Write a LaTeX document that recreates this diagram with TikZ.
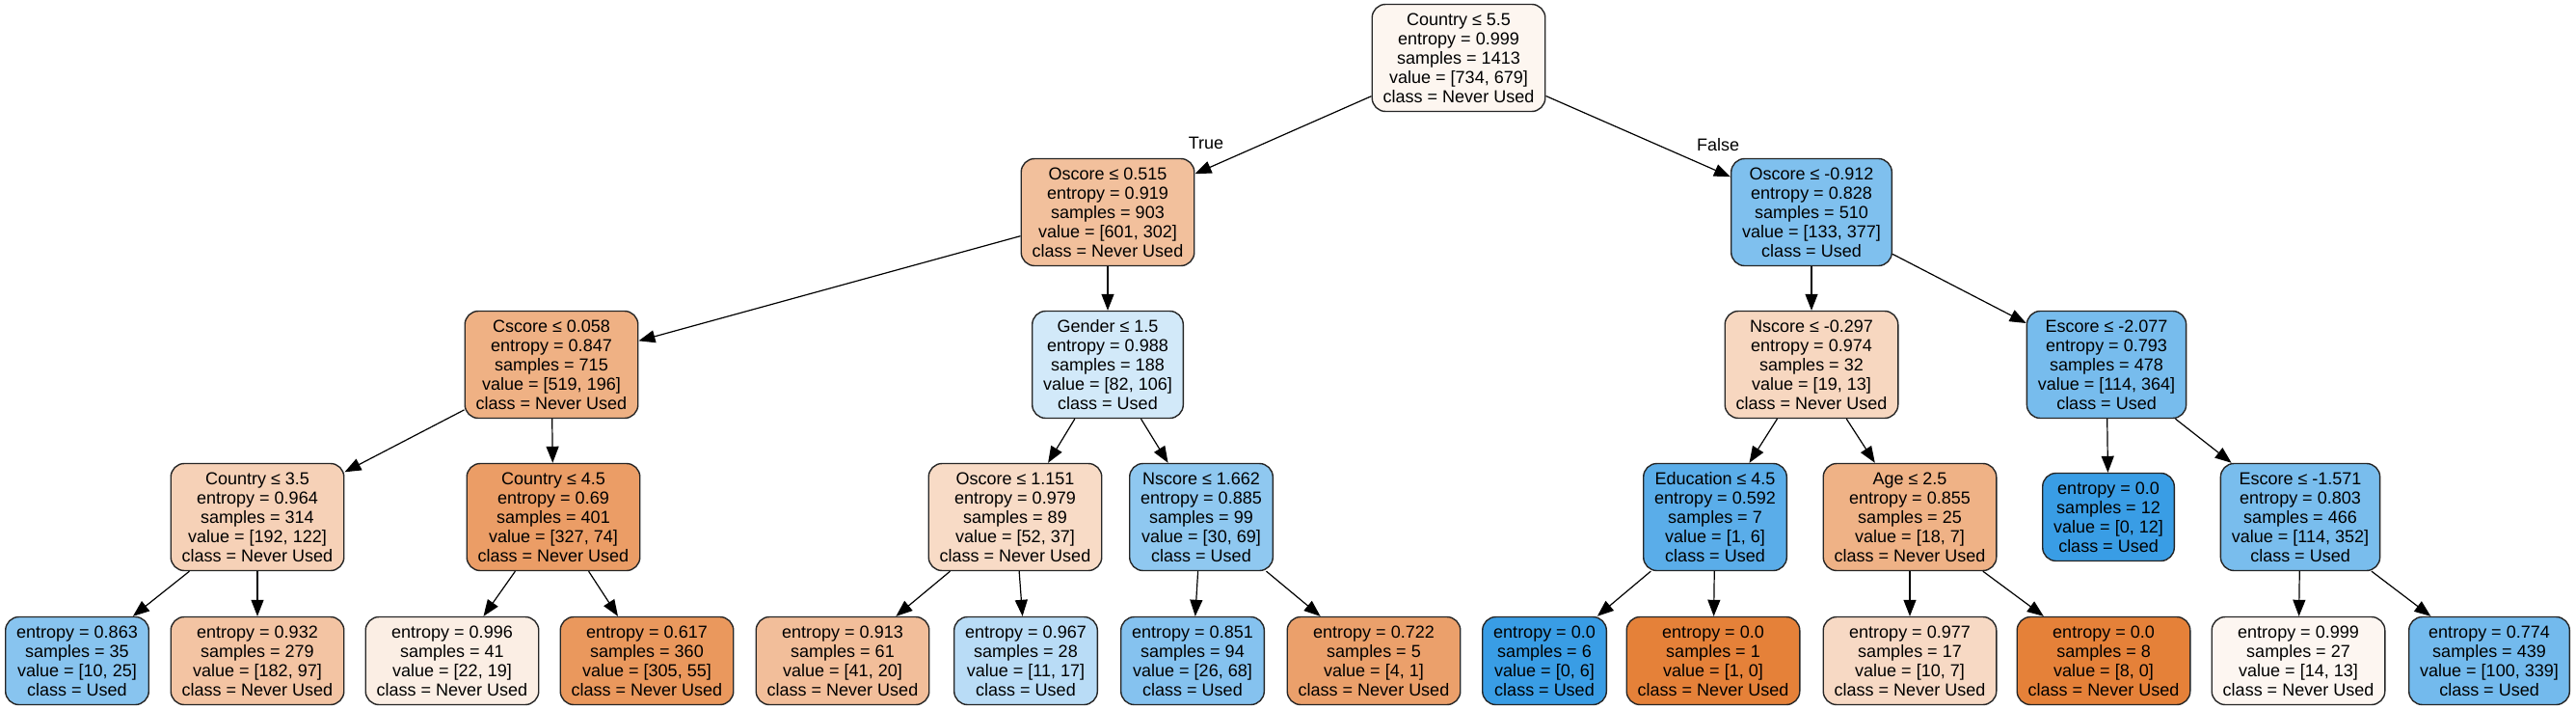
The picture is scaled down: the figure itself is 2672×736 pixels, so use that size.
\documentclass[tikz,border=0pt]{standalone}
\usepackage{fontspec}
\setmainfont{Liberation Sans}
\usetikzlibrary{arrows.meta}
\definecolor{neverused}{RGB}{229,129,57}
\definecolor{used}{RGB}{57,157,229}

\begin{document}
\begin{tikzpicture}[
    x=1pt, y=-1pt,
    edge/.style={draw=black, line width=1.2pt,
        -{Triangle[length=17pt, width=13pt]}},
    tree node/.style={draw=black!85, rectangle, rounded corners=14pt,
        line width=1.4pt, align=center, inner xsep=11.5pt, inner ysep=3pt,
        font=\fontsize{18}{20}\selectfont},
    split/.style={tree node, minimum height=111pt},
    leaf/.style={tree node, minimum height=91pt},
    branch label/.style={font=\fontsize{18}{20}\selectfont, inner sep=1pt}
]
    \path[use as bounding box] (0,0) rectangle (2672,736);

    % The root split.
    \node[split, fill=neverused!7.5!white] (country55) at (1513,60)
        {Country ≤ 5.5\\entropy = 0.999\\samples = 1413\\value = [734, 679]\\class = Never Used};

    % Depth one.
    \node[split, fill=neverused!49.8!white] (oscore515) at (1149,220)
        {Oscore ≤ 0.515\\entropy = 0.919\\samples = 903\\value = [601, 302]\\class = Never Used};
    \node[split, fill=used!64.7!white] (oscoreM912) at (1879,220)
        {Oscore ≤ -0.912\\entropy = 0.828\\samples = 510\\value = [133, 377]\\class = Used};

    % Depth two.
    \node[split, fill=neverused!62.2!white] (cscore058) at (572,378)
        {Cscore ≤ 0.058\\entropy = 0.847\\samples = 715\\value = [519, 196]\\class = Never Used};
    \node[split, fill=used!22.6!white] (gender15) at (1149,378)
        {Gender ≤ 1.5\\entropy = 0.988\\samples = 188\\value = [82, 106]\\class = Used};
    \node[split, fill=neverused!31.6!white] (nscoreM297) at (1879,378)
        {Nscore ≤ -0.297\\entropy = 0.974\\samples = 32\\value = [19, 13]\\class = Never Used};
    \node[split, fill=used!68.7!white] (escoreM2077) at (2185,378)
        {Escore ≤ -2.077\\entropy = 0.793\\samples = 478\\value = [114, 364]\\class = Used};

    % Depth three.
    \node[split, fill=neverused!36.5!white] (country35) at (267,536)
        {Country ≤ 3.5\\entropy = 0.964\\samples = 314\\value = [192, 122]\\class = Never Used};
    \node[split, fill=neverused!77.4!white] (country45) at (574,536)
        {Country ≤ 4.5\\entropy = 0.69\\samples = 401\\value = [327, 74]\\class = Never Used};
    \node[split, fill=neverused!28.8!white] (oscore1151) at (1053,536)
        {Oscore ≤ 1.151\\entropy = 0.979\\samples = 89\\value = [52, 37]\\class = Never Used};
    \node[split, fill=used!56.5!white] (nscore1662) at (1246,536)
        {Nscore ≤ 1.662\\entropy = 0.885\\samples = 99\\value = [30, 69]\\class = Used};
    \node[split, fill=used!83.3!white] (educ45) at (1779,536)
        {Education ≤ 4.5\\entropy = 0.592\\samples = 7\\value = [1, 6]\\class = Used};
    \node[split, fill=neverused!61.1!white] (age25) at (1981,536)
        {Age ≤ 2.5\\entropy = 0.855\\samples = 25\\value = [18, 7]\\class = Never Used};
    \node[leaf, fill=used] (pure12) at (2187,536)
        {entropy = 0.0\\samples = 12\\value = [0, 12]\\class = Used};
    \node[split, fill=used!67.6!white] (escoreM1571) at (2386,536)
        {Escore ≤ -1.571\\entropy = 0.803\\samples = 466\\value = [114, 352]\\class = Used};

    % The leaves.
    \node[leaf, fill=used!60!white] (leaf1) at (80,685)
        {entropy = 0.863\\samples = 35\\value = [10, 25]\\class = Used};
    \node[leaf, fill=neverused!46.7!white] (leaf2) at (267,685)
        {entropy = 0.932\\samples = 279\\value = [182, 97]\\class = Never Used};
    \node[leaf, fill=neverused!13.6!white] (leaf3) at (469,685)
        {entropy = 0.996\\samples = 41\\value = [22, 19]\\class = Never Used};
    \node[leaf, fill=neverused!82!white] (leaf4) at (671,685)
        {entropy = 0.617\\samples = 360\\value = [305, 55]\\class = Never Used};
    \node[leaf, fill=neverused!51.2!white] (leaf5) at (874,685)
        {entropy = 0.913\\samples = 61\\value = [41, 20]\\class = Never Used};
    \node[leaf, fill=used!35.3!white] (leaf6) at (1064,685)
        {entropy = 0.967\\samples = 28\\value = [11, 17]\\class = Used};
    \node[leaf, fill=used!61.8!white] (leaf7) at (1237,685)
        {entropy = 0.851\\samples = 94\\value = [26, 68]\\class = Used};
    \node[leaf, fill=neverused!75!white] (leaf8) at (1425,685)
        {entropy = 0.722\\samples = 5\\value = [4, 1]\\class = Never Used};
    \node[leaf, fill=used] (leaf9) at (1602,685)
        {entropy = 0.0\\samples = 6\\value = [0, 6]\\class = Used};
    \node[leaf, fill=neverused] (leaf10) at (1777,685)
        {entropy = 0.0\\samples = 1\\value = [1, 0]\\class = Never Used};
    \node[leaf, fill=neverused!30!white] (leaf11) at (1981,685)
        {entropy = 0.977\\samples = 17\\value = [10, 7]\\class = Never Used};
    \node[leaf, fill=neverused] (leaf12) at (2182,685)
        {entropy = 0.0\\samples = 8\\value = [8, 0]\\class = Never Used};
    \node[leaf, fill=neverused!7.1!white] (leaf13) at (2384,685)
        {entropy = 0.999\\samples = 27\\value = [14, 13]\\class = Never Used};
    \node[leaf, fill=used!70.5!white] (leaf14) at (2582,685)
        {entropy = 0.774\\samples = 439\\value = [100, 339]\\class = Used};

    % Edges.
    \draw[edge] (country55) -- (oscore515);
    \draw[edge] (country55) -- (oscoreM912);
    \draw[edge] (oscore515) -- (cscore058);
    \draw[edge] (oscore515) -- (gender15);
    \draw[edge] (oscoreM912) -- (nscoreM297);
    \draw[edge] (oscoreM912) -- (escoreM2077);
    \draw[edge] (cscore058) -- (country35);
    \draw[edge] (cscore058) -- (country45);
    \draw[edge] (gender15) -- (oscore1151);
    \draw[edge] (gender15) -- (nscore1662);
    \draw[edge] (nscoreM297) -- (educ45);
    \draw[edge] (nscoreM297) -- (age25);
    \draw[edge] (escoreM2077) -- (pure12);
    \draw[edge] (escoreM2077) -- (escoreM1571);
    \draw[edge] (country35) -- (leaf1);
    \draw[edge] (country35) -- (leaf2);
    \draw[edge] (country45) -- (leaf3);
    \draw[edge] (country45) -- (leaf4);
    \draw[edge] (oscore1151) -- (leaf5);
    \draw[edge] (oscore1151) -- (leaf6);
    \draw[edge] (nscore1662) -- (leaf7);
    \draw[edge] (nscore1662) -- (leaf8);
    \draw[edge] (educ45) -- (leaf9);
    \draw[edge] (educ45) -- (leaf10);
    \draw[edge] (age25) -- (leaf11);
    \draw[edge] (age25) -- (leaf12);
    \draw[edge] (escoreM1571) -- (leaf13);
    \draw[edge] (escoreM1571) -- (leaf14);

    \node[branch label] (truelabel) at (1251,148) {True};
    \node[branch label] (falselabel) at (1782,150) {False};
\end{tikzpicture}
\end{document}
